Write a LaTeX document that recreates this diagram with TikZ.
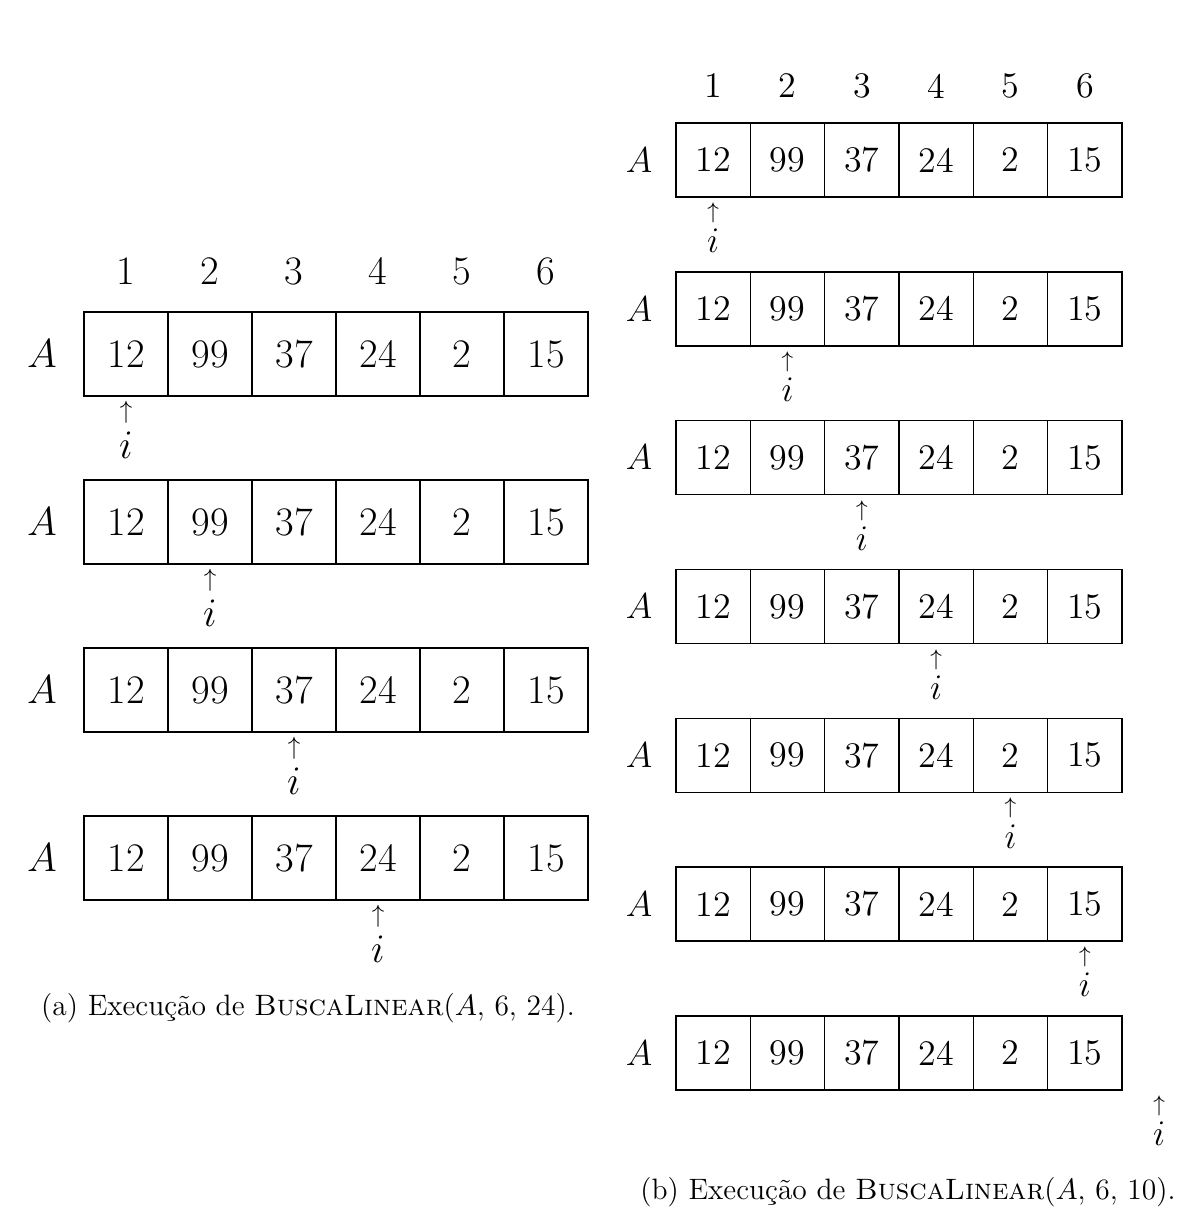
\RequirePackage{fix-cm}
\documentclass[tikz,border=0pt]{standalone}
\begin{document}
\begin{tikzpicture}[x=0.4pt,y=-0.4pt,
  cellL/.style={draw, line width=0.6pt, minimum width=33.6pt, minimum height=33.6pt, inner sep=0pt, outer sep=0pt, font=\fontsize{16.2}{19}\selectfont},
  cellR/.style={draw, line width=0.6pt, minimum width=29.73pt, minimum height=29.6pt, inner sep=0pt, outer sep=0pt, font=\fontsize{14.4}{17}\selectfont},
  labL/.style={inner sep=0pt, font=\fontsize{16.2}{19}\selectfont},
  labR/.style={inner sep=0pt, font=\fontsize{14.4}{17}\selectfont},
  arrL/.style={inner sep=0pt, font=\fontsize{10}{12}\selectfont},
  arrR/.style={inner sep=0pt, font=\fontsize{9}{11}\selectfont},
  capt/.style={inner sep=0pt, font=\fontsize{11.8}{14}\selectfont}]
\useasboundingbox (0,0) rectangle (1200,1224);
% ---------- left panel ----------
\foreach \v [count=\n] in {1,...,6}
  \node[labL] (Lh\n) at ({126+84*(\n-1)},271) {\v};
\foreach \r in {0,...,3} {
  \node[labL] (LA\r) at (42,{354+168*\r}) {$A$};
  \foreach \v [count=\c from 0] in {12,99,37,24,2,15}
    \node[cellL] (L\r-\c) at ({126+84*\c},{354+168*\r}) {\v};
  \node[arrL] (Lup\r) at ({126+84*\r},{412+168*\r}) {$\uparrow$};
  \node[labL] (Li\r) at ({126+84*\r},{445+168*\r}) {$i$};
}
\node[capt] (capa) at (308,1008) {(a) Execução de \textsc{BuscaLinear}($A$, 6, 24).};
% ---------- right panel ----------
\foreach \v [count=\n] in {1,...,6}
  \node[labR] (Rh\n) at ({713.17+74.333*(\n-1)},86) {\v};
\foreach \r in {0,...,6} {
  \node[labR] (RA\r) at (639,{160+148.83*\r}) {$A$};
  \foreach \v [count=\c from 0] in {12,99,37,24,2,15}
    \node[cellR] (R\r-\c) at ({713.17+74.333*\c},{160+148.83*\r}) {\v};
  \node[arrR] (Rup\r) at ({713.17+74.333*\r},{213+148.83*\r}) {$\uparrow$};
  \node[labR] (Ri\r) at ({713.17+74.333*\r},{241+148.83*\r}) {$i$};
}
\node[capt] (capb) at (908,1192) {(b) Execução de \textsc{BuscaLinear}($A$, 6, 10).};
\end{tikzpicture}
\end{document}
